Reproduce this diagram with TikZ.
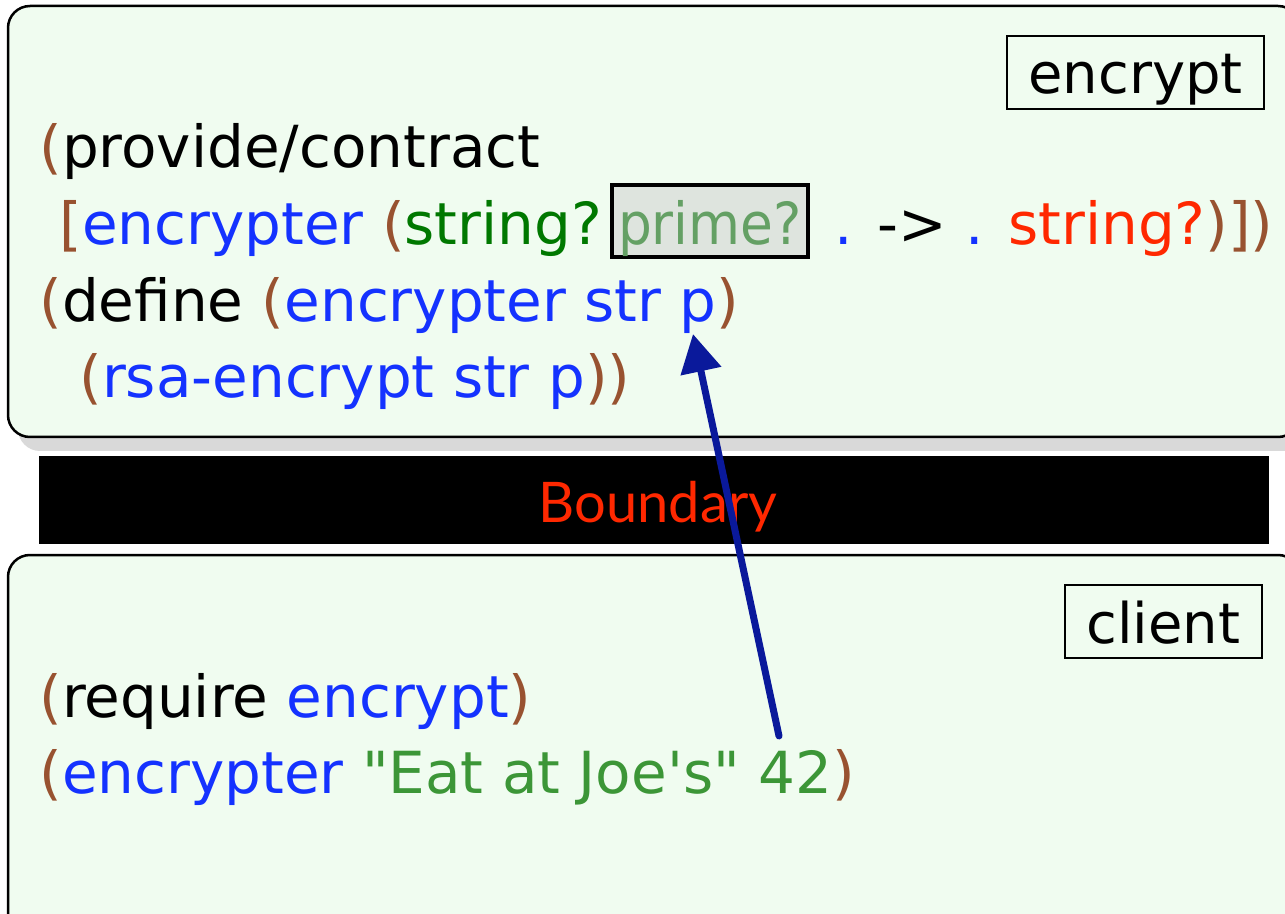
\documentclass[tikz,border=0pt]{standalone}
\usepackage{fontspec}
\usetikzlibrary{arrows.meta}
\newfontfamily\codefont{DejaVu Sans}
\newfontfamily\bndfont{Lato}
\definecolor{paren}{RGB}{152,82,48}
\definecolor{idblue}{RGB}{20,50,255}
\definecolor{kwgreen}{RGB}{0,120,0}
\definecolor{constgreen}{RGB}{60,150,55}
\definecolor{primegreen}{RGB}{100,160,100}
\definecolor{primebg}{RGB}{222,228,222}
\definecolor{errred}{RGB}{255,40,0}
\definecolor{boxbg}{RGB}{240,252,240}
\definecolor{shadowgray}{RGB}{217,217,217}
\definecolor{arrowblue}{RGB}{10,25,155}
\newcommand{\pp}[1]{\textcolor{paren}{#1}}
\newcommand{\bl}[1]{\textcolor{idblue}{#1}}
\begin{document}
\begin{tikzpicture}[x=0.5pt,y=-0.5pt,
  code/.style={inner sep=0pt, anchor=base west, font=\codefont\fontsize{29pt}{34pt}\selectfont},
  modbox/.style={rounded corners=11pt, line width=1.25pt, draw=black, fill=boxbg},
  namebox/.style={draw=black, line width=1pt, anchor=base west, inner xsep=10.75pt, inner ysep=0pt,
    text height=29pt, text depth=7.5pt, font=\codefont\fontsize{28pt}{34pt}\selectfont},
  primebox/.style={draw=black, line width=2pt, fill=primebg, anchor=base west, inner xsep=3pt, inner ysep=0pt,
    text height=30pt, text depth=6pt, text=primegreen, font=\codefont\fontsize{29pt}{34pt}\selectfont},
  connector/.style={draw=arrowblue, line width=3.5pt, line cap=round, -{Triangle[length=19pt,width=20pt]}}]
\useasboundingbox (0,0) rectangle (1285,914);
% top module
\fill[shadowgray, rounded corners=11pt] (18,18) rectangle (1310,451);
\path[modbox] (8,6) rectangle (1300,437);
\node[namebox] (encname) at (1006,94) {encrypt};
\node[code] (l1) at (39,168) {\pp{(}provide/contract};
\node[code] (l2a) at (59,245) {\pp{[}\bl{encrypter} \pp{(}\textcolor{kwgreen}{string?}};
\node[primebox] (prime) at (610,245) {\scalebox{0.92}[1]{prime?}};
\node[code] (l2c) at (834,245) {\bl{.} -> \bl{.} \textcolor{errred}{string?}\pp{)]}\pp{)}};
\node[code] (l3) at (39,322) {\pp{(}define \pp{(}\bl{encrypter str p}\pp{)}};
\node[code] (l4) at (79,398) {\pp{(}\bl{rsa-encrypt str p}\pp{))}};
% boundary
\fill[black] (39,456) rectangle (1269,544);
\node[font=\bndfont\fontsize{28pt}{30pt}\selectfont, text=errred, anchor=base, inner sep=0pt] (bnd) at (658,523) {Boundary};
% client module
\path[modbox] (8,555) rectangle (1300,940);
\node[namebox] (cliname) at (1064,643) {client};
\node[code] (b1) at (39,717) {\pp{(}require \bl{encrypt}\pp{)}};
\node[code] (b2) at (39,793) {\pp{(}\bl{encrypter} \textcolor{constgreen}{\textquotedbl Eat at Joe\textquotesingle s\textquotedbl\ 42}\pp{)}};
% arrow
\coordinate (argtail) at (779,736);
\coordinate (ptip) at (693,334);
\draw[connector] (argtail) -- (ptip);
\end{tikzpicture}
\end{document}
